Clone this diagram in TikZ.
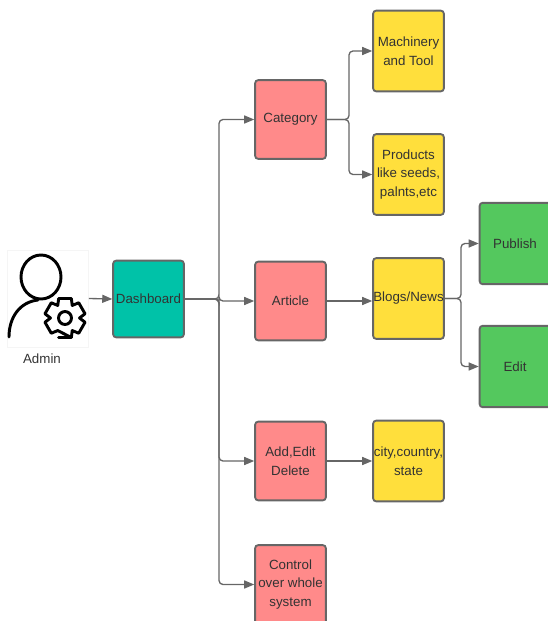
\documentclass[tikz,border=0pt]{standalone}
\usepackage{fontspec}
\setmainfont{Liberation Sans}
\usepackage{tikz}
\usetikzlibrary{calc,arrows.meta}
\definecolor{teal1}{HTML}{00C2A8}
\definecolor{pink1}{HTML}{FF8A8A}
\definecolor{yellow1}{HTML}{FFDF3C}
\definecolor{green1}{HTML}{54C85E}
\definecolor{edge1}{HTML}{666666}
\definecolor{text1}{HTML}{333333}

\begin{document}
\begin{tikzpicture}
[x=0.75pt,y=-0.75pt,
box/.style={rectangle,draw=edge1,line width=1.4pt,rounded corners=2.2pt,minimum width=53pt,inner sep=0pt,align=center,text=text1,font=\fontsize{10}{14}\selectfont},
dashbox/.style={box,fill=teal1,minimum height=57.5pt},
catbox/.style={box,fill=pink1,minimum height=59pt},
subbox/.style={box,fill=yellow1,minimum height=60.5pt},
endbox/.style={box,fill=green1,minimum height=61pt},
link/.style={draw=edge1,line width=1pt,rounded corners=3pt,-{Triangle[length=7.5pt,width=6pt]}},
icon/.style={draw=black,line width=2.2pt,line cap=round,line join=round}]
\useasboundingbox (0,0) rectangle (548,621);
\node (admin) at (48,298.5) [draw=black!4,line width=0.4pt,minimum width=61pt,minimum height=73pt,inner sep=0pt] {};
\node (adminlabel) at (42,359) [text=text1,font=\fontsize{10}{12}\selectfont] {Admin};
\coordinate (gear) at (65,318);
\draw[icon] (41,277) ellipse (20 and 22);
\draw[icon] (9,337) .. controls (9,317) and (20,302) .. (38,300);
\draw[icon] (gear) circle (6.5);
\draw[icon] ($(gear)+(72:20.5)$)
\foreach \a in {90,30,-30,-90,-150,-210} {
-- ($(gear)+(\a+18:20.5)$) -- ($(gear)+(\a+18:20.5)$)
-- ($(gear)+(\a-18:20.5)$) -- ($(gear)+(\a-30:14.5)$)
} -- cycle;
\node (dashboard) at (148.5,299) [dashbox] {Dashboard};
\node (category) at (290.5,119.5) [catbox] {Category};
\node (article) at (290.5,301) [catbox] {Article};
\node (addedit) at (290.5,461) [catbox] {Add,Edit\\Delete};
\node (control) at (290.5,584.5) [catbox] {Control\\over whole\\system};
\node (machinery) at (408.5,51) [subbox] {Machinery\\and Tool};
\node (products) at (408.5,174.5) [subbox] {Products\\like seeds,\\palnts,etc};
\node (blogs) at (408.5,298.5) [subbox] {Blogs/News};
\node (city) at (408.5,461) [subbox] {city,country,\\state};
\node (publish) at (515,243.5) [endbox] {Publish};
\node (edit) at (515,366.5) [endbox] {Edit};
\coordinate (busa) at (219,299);
\coordinate (busb) at (349,119.5);
\coordinate (busc) at (461,298.5);
\draw[link] (admin.east) -- (dashboard.west);
\draw[link] (dashboard.east) -- (busa) |- (category.west);
\draw[link] (dashboard.east) -- (busa) |- (article.west);
\draw[link] (dashboard.east) -- (busa) |- (addedit.west);
\draw[link] (dashboard.east) -- (busa) |- (control.west);
\draw[link] (category.east) -- (busb) |- (machinery.west);
\draw[link] (category.east) -- (busb) |- (products.west);
\draw[link] (article.east) -- (blogs.west |- article.east);
\draw[link] (blogs.east) -- (busc) |- (publish.west);
\draw[link] (blogs.east) -- (busc) |- (edit.west);
\draw[link] (addedit.east) -- (city.west);
\end{tikzpicture}
\end{document}
